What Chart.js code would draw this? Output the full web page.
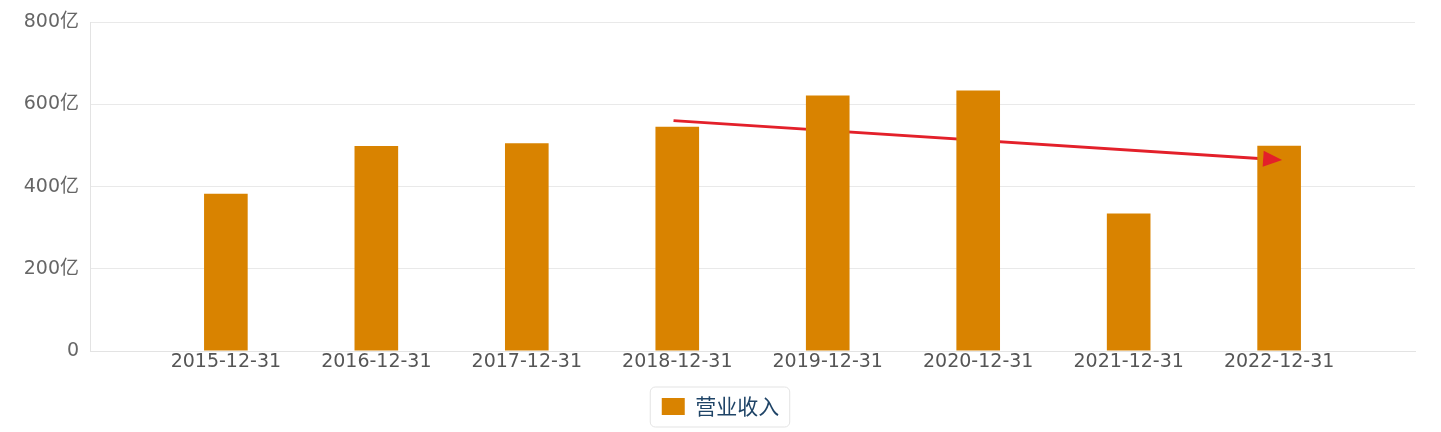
<!DOCTYPE html>
<html lang="zh">
<head>
    <meta charset="UTF-8">
    <title>营业收入</title>
    <script src="https://cdn.jsdelivr.net/npm/chart.js@4.4.0/dist/chart.umd.min.js"></script>
    <style>
        html, body { margin: 0; padding: 0; background: #fff; }
        #wrap { width: 1441px; height: 432px; position: relative; }
    </style>
</head>
<body>
<div id="wrap">
    <canvas id="myChart"></canvas>
</div>
<script>
// datos del gráfico (亿)
const categorias = ['2015-12-31', '2016-12-31', '2017-12-31', '2018-12-31',
                    '2019-12-31', '2020-12-31', '2021-12-31', '2022-12-31'];
const ingresos = [383, 499, 506, 546, 622, 634, 335, 500];
const serieNombre = '营业收入';
const yTicks = [0, 200, 400, 600, 800];
// flecha roja: posición en índice de categoría y valor
const flechaX = [2.975, 7.02];
const flechaY = [561, 465];

const naranja = '#d98300';
const rojo = '#e3202a';

// dibuja la punta de flecha y el marco de la leyenda
const extras = {
    id: 'extras',
    afterDatasetsDraw(chart) {
        const meta = chart.getDatasetMeta(1);
        const pts = meta.data;
        if (pts.length < 2) return;
        const a = pts[pts.length - 2], b = pts[pts.length - 1];
        const ang = Math.atan2(b.y - a.y, b.x - a.x);
        const ctx = chart.ctx;
        ctx.save();
        ctx.translate(b.x, b.y);
        ctx.rotate(ang);
        ctx.fillStyle = rojo;
        ctx.beginPath();
        ctx.moveTo(0, 0);
        ctx.lineTo(-19, -8);
        ctx.lineTo(-19, 8);
        ctx.closePath();
        ctx.fill();
        ctx.restore();
    },
    afterDraw(chart) {
        const hb = chart.legend.legendHitBoxes[0];
        if (!hb) return;
        const ctx = chart.ctx;
        const x = hb.left - 12, w = hb.width + 22;
        const cy = hb.top + hb.height / 2;
        const y = cy - 20, h = 40;
        ctx.save();
        ctx.strokeStyle = '#e3e3e3';
        ctx.lineWidth = 1;
        ctx.beginPath();
        ctx.roundRect(x + 0.5, y + 0.5, w, h, 5);
        ctx.stroke();
        ctx.restore();
    }
};

const ctx = document.getElementById('myChart').getContext('2d');
const myChart = new Chart(ctx, {
    type: 'bar',
    data: {
        datasets: [{
            label: serieNombre,
            data: ingresos.map((v, i) => ({ x: i, y: v })),
            backgroundColor: naranja,
            borderWidth: 0,
            barPercentage: 0.29,
            categoryPercentage: 1
        }, {
            type: 'line',
            label: 'flecha',
            data: flechaX.map((x, i) => ({ x: x, y: flechaY[i] })),
            borderColor: rojo,
            borderWidth: 2.8,
            pointRadius: 0,
            fill: false
        }]
    },
    options: {
        responsive: true,
        maintainAspectRatio: false,
        animation: false,
        layout: { padding: { top: 18, right: 0, left: 0, bottom: 5 } },
        plugins: {
            tooltip: { enabled: false },
            legend: {
                position: 'bottom',
                labels: {
                    filter: item => item.datasetIndex === 0,
                    boxWidth: 23,
                    boxHeight: 17,
                    padding: 10,
                    color: '#1f4467',
                    font: { family: "'Noto Sans CJK SC'", size: 21 }
                }
            }
        },
        scales: {
            x: {
                type: 'linear',
                offset: false,
                min: -0.903,
                max: 7.903,
                afterBuildTicks: s => { s.ticks = categorias.map((c, i) => ({ value: i })); },
                afterFit: s => { s.height = 35; },
                ticks: {
                    autoSkip: false,
                    maxRotation: 0,
                    padding: -8,
                    color: '#555',
                    font: { family: "'DejaVu Sans', 'Noto Sans CJK SC'", size: 19 },
                    callback: v => categorias[v]
                },
                grid: { display: false },
                border: { display: true, color: '#e3e3e3' }
            },
            y: {
                min: 0,
                max: 800,
                afterBuildTicks: s => { s.ticks = yTicks.map(v => ({ value: v })); },
                afterFit: s => { s.width = 90; },
                ticks: {
                    padding: 11,
                    color: '#666',
                    font: { family: "'DejaVu Sans', 'Noto Sans CJK SC'", size: 19 },
                    callback: v => v === 0 ? '0' : v + '亿'
                },
                grid: { color: '#e9e9e9', drawTicks: false },
                border: { display: true, color: '#e3e3e3' }
            },
            margenDerecho: {
                position: 'right',
                grid: { display: false },
                ticks: { display: false },
                border: { display: false },
                afterFit: s => { s.width = 26; }
            }
        }
    },
    plugins: [extras]
});
</script>
</body>
</html>
